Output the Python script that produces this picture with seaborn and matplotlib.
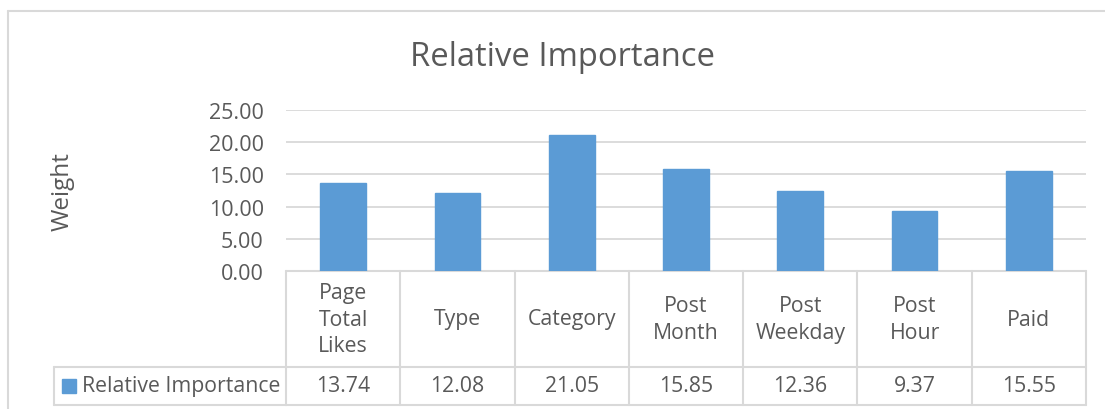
import matplotlib
matplotlib.use('Agg')
import matplotlib.pyplot as plt
import seaborn as sns
import pandas as pd
from matplotlib.lines import Line2D
from matplotlib.patches import Rectangle

# Data
categories = ['Page\nTotal\nLikes', 'Type', 'Category', 'Post\nMonth', 'Post\nWeekday', 'Post\nHour', 'Paid']
values = [13.74, 12.08, 21.05, 15.85, 12.36, 9.37, 15.55]
series_name = 'Relative Importance'
yticks = [0, 5, 10, 15, 20, 25]

df = pd.DataFrame({'cat': categories, 'val': values})

sns.set_theme(style='white')
plt.rcParams['font.family'] = ['Open Sans', 'DejaVu Sans']

bar_color = '#5B9BD5'
text_color = '#595959'
line_color = '#D9D9D9'
fs = 15.3

W, H = 1105, 410
fig = plt.figure(figsize=(W / 100, H / 100), dpi=100)
fig.patch.set_facecolor('white')

# plot area in pixels
left, right, top, bottom = 286, 1086, 111, 272
ax = fig.add_axes([left / W, 1 - bottom / H, (right - left) / W, (bottom - top) / H])

sns.barplot(data=df, x='cat', y='val', color=bar_color, width=0.4, ax=ax,
            saturation=1, edgecolor=bar_color, zorder=3)
ax.set_xlim(-0.5, len(categories) - 0.5)
ax.set_ylim(0, 25)
ax.set_yticks(yticks)
ax.set_yticklabels([f'{v:.2f}' for v in yticks], color=text_color, fontsize=fs + 0.2)
ax.tick_params(axis='y', length=0, pad=16)
ax.set_xticks([])
ax.set_xlabel('')
ax.set_ylabel('')
ax.yaxis.grid(True, color=line_color, linewidth=1.3, zorder=0)
ax.set_axisbelow(True)
for s in ax.spines.values():
    s.set_visible(False)

# data table under the plot (x in data, y in axes units)
tr = ax.get_xaxis_transform()
plot_h = bottom - top
y_hdr = -(368 - bottom) / plot_h
y_val = -(406 - bottom) / plot_h
n = len(categories)
lkw = dict(color=line_color, linewidth=1.5, clip_on=False, transform=tr)
for yy in [0, y_hdr, y_val]:
    ax.add_line(Line2D([-0.5, n - 0.5], [yy, yy], **lkw))
for i in range(n + 1):
    ax.add_line(Line2D([i - 0.5, i - 0.5], [0, y_val], **lkw))
for i, (c, v) in enumerate(zip(categories, values)):
    ax.text(i, y_hdr / 2, c, ha='center', va='center', transform=tr,
            color=text_color, fontsize=fs, linespacing=1.36)
    ax.text(i, (y_hdr + y_val) / 2, f'{v:.2f}', ha='center', va='center',
            transform=tr, color=text_color, fontsize=fs)

# legend cell of the table (figure pixels)
def fx(px):
    return px / W

def fy(py):
    return 1 - py / H

fig.add_artist(Line2D([fx(54), fx(left)], [fy(368), fy(368)], color=line_color, linewidth=1.5))
fig.add_artist(Line2D([fx(54), fx(left)], [fy(406), fy(406)], color=line_color, linewidth=1.5))
fig.add_artist(Line2D([fx(54), fx(54)], [fy(368), fy(406)], color=line_color, linewidth=1.5))
fig.add_artist(Rectangle((fx(62), fy(394)), fx(14), 14 / H, color=bar_color))
fig.text(fx(82), fy(387), series_name, ha='left', va='center', color=text_color, fontsize=fs)

# title and y label
fig.text(fx(563), fy(57), 'Relative Importance', ha='center', va='center',
         color=text_color, fontsize=23.6)
fig.text(fx(63), fy(192), 'Weight', ha='center', va='center', rotation=90,
         color=text_color, fontsize=17.5)

# chart border
fig.add_artist(Line2D([fx(8), fx(8)], [fy(12), 0], color=line_color, linewidth=1.5))
fig.add_artist(Line2D([fx(8), 1], [fy(12), fy(12)], color=line_color, linewidth=1.5))

fig.savefig('out.png', dpi=100)
